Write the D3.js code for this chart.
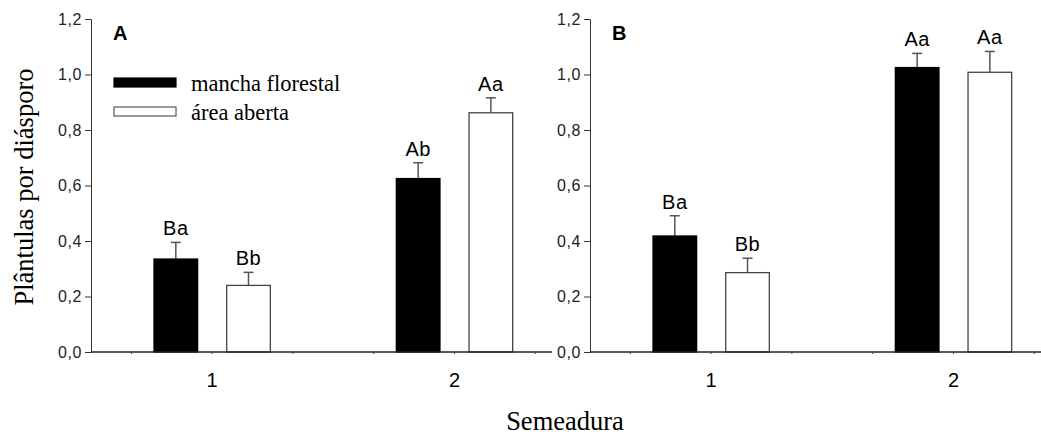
<!DOCTYPE html>
<html>
<head>
<meta charset="utf-8">
<script src="https://cdn.jsdelivr.net/npm/d3@7"></script>
<style>
  body { margin: 0; background: #fff; }
</style>
</head>
<body>
<div id="chart"></div>
<script>
// data
const sowings = [1, 2];
const habitats = ["mancha florestal", "área aberta"];
const panelNames = ["A", "B"];
// means per panel, [habitat][sowing]
const meansA = [[0.335, 0.625], [0.24, 0.862]];
const meansB = [[0.418, 1.025], [0.286, 1.008]];
// upper error (SE) per panel
const errA = [[0.06, 0.057], [0.047, 0.054]];
const errB = [[0.073, 0.051], [0.052, 0.075]];
const lettersA = [["Ba", "Ab"], ["Bb", "Aa"]];
const lettersB = [["Ba", "Aa"], ["Bb", "Aa"]];
const yTicks = [0, 0.2, 0.4, 0.6, 0.8, 1.0, 1.2];
const xMinorTicks = [2 / 3, 1, 4 / 3, 5 / 3, 2, 7 / 3];

const width = 1041, height = 435;
const sans = "Arial, Liberation Sans, sans-serif";
const serif = "Times New Roman, Liberation Serif, serif";

const svg = d3.select("#chart").append("svg")
  .attr("width", width).attr("height", height);

const y = d3.scaleLinear().domain([0, 1.2]).range([352, 19]);
const fmt = d => d.toFixed(1).replace(".", ",");

const panels = [
  { name: "A", left: 91, right: 552, means: meansA, err: errA, letters: lettersA, legend: true },
  { name: "B", left: 590, right: 1041, means: meansB, err: errB, letters: lettersB, legend: false },
];

panels.forEach(p => {
  const g = svg.append("g");
  // x as linear scale: sowing 1 and 2 centers
  const x = d3.scaleLinear().domain([0.5, 2]).range([p.left, p.left + 363.5]);
  const barW = x(0.68) - x(0.5);
  const offset = x(0.65) - x(0.5);

  // y axis
  g.append("g")
    .attr("transform", `translate(${p.left},0)`)
    .call(d3.axisLeft(y).tickValues(yTicks).tickFormat(fmt).tickSizeOuter(0).tickSize(6).tickPadding(3))
    .call(a => a.selectAll("text").attr("font-family", sans)
      .attr("font-size", 16).attr("letter-spacing", 0.6).attr("fill", "#222"))
    .call(a => a.selectAll("line, path").attr("stroke", "#333"));

  // bars
  habitats.forEach((h, hi) => {
    sowings.forEach((s, si) => {
      const cx = x(s) + (hi === 0 ? -offset : offset);
      const v = p.means[hi][si];
      const e = p.err[hi][si];
      // error bar (upper only)
      g.append("line")
        .attr("x1", cx).attr("x2", cx)
        .attr("y1", y(v)).attr("y2", y(v + e))
        .attr("stroke", "#555").attr("stroke-width", 1.5);
      g.append("line")
        .attr("x1", cx - 5).attr("x2", cx + 5)
        .attr("y1", y(v + e)).attr("y2", y(v + e))
        .attr("stroke", "#555").attr("stroke-width", 1.5);
      g.append("rect")
        .attr("x", cx - barW / 2).attr("width", barW)
        .attr("y", y(v)).attr("height", y(0) - y(v))
        .attr("fill", hi === 0 ? "#000" : "#fff")
        .attr("stroke", hi === 0 ? "#000" : "#444")
        .attr("stroke-width", 1.3);
      g.append("text")
        .attr("x", cx).attr("y", y(v + e) - 7)
        .attr("text-anchor", "middle")
        .attr("font-family", sans)
        .attr("font-size", 20).attr("letter-spacing", 0.5).attr("fill", "#000")
        .text(p.letters[hi][si]);
    });
  });

  // x axis line
  g.append("line")
    .attr("x1", p.left).attr("x2", p.right)
    .attr("y1", y(0)).attr("y2", y(0))
    .attr("stroke", "#222").attr("stroke-width", 1.5);
  g.selectAll(".minor").data(xMinorTicks.filter(t => x(t) < p.right)).join("line")
    .attr("x1", d => x(d)).attr("x2", d => x(d))
    .attr("y1", y(0)).attr("y2", y(0) + 2)
    .attr("stroke", "#444");
  g.selectAll(".xlab").data(sowings).join("text")
    .attr("x", d => x(d)).attr("y", 387)
    .attr("text-anchor", "middle")
    .attr("font-family", sans)
    .attr("font-size", 20).attr("fill", "#000")
    .text(d => d);

  // panel letter
  g.append("text")
    .attr("x", p.left + 22).attr("y", 40)
    .attr("font-family", sans)
    .attr("font-weight", "bold").attr("font-size", 20)
    .text(p.name);

  if (p.legend) {
    const lg = g.append("g");
    habitats.forEach((h, i) => {
      lg.append("rect")
        .attr("x", 114).attr("y", 78 + i * 29)
        .attr("width", 62).attr("height", 9)
        .attr("fill", i === 0 ? "#000" : "#fff")
        .attr("stroke", i === 0 ? "#000" : "#555").attr("stroke-width", 1.2);
      lg.append("text")
        .attr("x", 191).attr("y", 91 + i * 29)
        .attr("font-family", serif)
        .attr("font-size", 22.5).attr("fill", "#000")
        .text(h);
    });
  }
});

// axis titles
svg.append("text")
  .attr("transform", "translate(33,187) rotate(-90)")
  .attr("text-anchor", "middle")
  .attr("font-family", serif)
  .attr("font-size", 26.5)
  .text("Plântulas por diásporo");
svg.append("text")
  .attr("x", 565).attr("y", 430)
  .attr("text-anchor", "middle")
  .attr("font-family", serif)
  .attr("font-size", 26.5)
  .text("Semeadura");
</script>
</body>
</html>
